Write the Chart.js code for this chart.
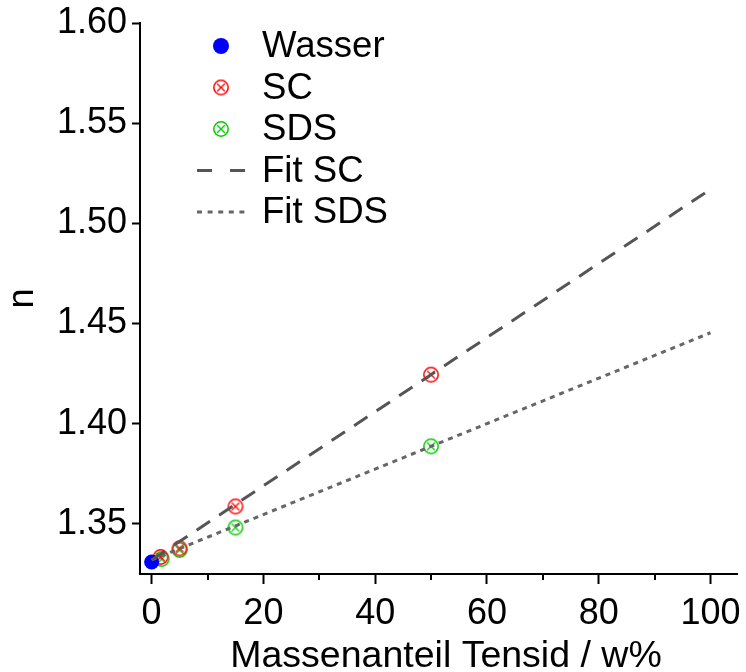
<!DOCTYPE html>
<html>
<head>
<meta charset="utf-8">
<script src="https://cdn.jsdelivr.net/npm/chart.js@4.4.0/dist/chart.umd.min.js"></script>
<style>
  html, body { margin: 0; padding: 0; background: #fff; }
  #chart { display: block; }
</style>
</head>
<body>
<canvas id="chart" width="746" height="672"></canvas>
<script>
// refractive index vs. surfactant mass fraction
const waterX = [0];
const waterN = [1.331];

const scX = [1.6, 5, 15, 50];
const scN = [1.3335, 1.3378, 1.3587, 1.4245];

const sdsX = [1.8, 5, 15, 50];
const sdsN = [1.3325, 1.3370, 1.3482, 1.3887];

const fitX = [0, 100];
const fitSC = [1.332, 1.517];
const fitSDS = [1.332, 1.4454];

const xTicks = [0, 20, 40, 60, 80, 100];
const yTicks = [1.35, 1.40, 1.45, 1.50, 1.55, 1.60];

const xTitle = 'Massenanteil Tensid / w%';

const FONT = "'Liberation Sans', Arial, Helvetica, sans-serif";
Chart.defaults.font.family = FONT;
Chart.defaults.font.size = 36;
Chart.defaults.color = '#000';

const pts = (xs, ys) => xs.map((x, i) => ({ x: x, y: ys[i] }));

// open circle with an x inside
function crossedCircle(color) {
  const c = document.createElement('canvas');
  c.width = 18;
  c.height = 18;
  const g = c.getContext('2d');
  g.strokeStyle = color;
  g.lineWidth = 1.5;
  g.beginPath();
  g.arc(9, 9, 7.2, 0, Math.PI * 2);
  g.stroke();
  g.lineWidth = 1.3;
  g.beginPath();
  g.moveTo(5.2, 5.2); g.lineTo(12.8, 12.8);
  g.moveTo(12.8, 5.2); g.lineTo(5.2, 12.8);
  g.stroke();
  return c;
}

const scMarker = crossedCircle('#ff0000');
const sdsMarker = crossedCircle('#00cc00');

// minor ticks halfway between the labelled x ticks, plus the x title
const xAxisExtras = {
  id: 'xAxisExtras',
  afterDraw(chart) {
    const sx = chart.scales.x;
    const ctx = chart.ctx;
    const y0 = chart.chartArea.bottom;
    ctx.save();
    ctx.strokeStyle = '#000';
    ctx.lineWidth = 2;
    for (let i = 0; i < xTicks.length - 1; i++) {
      const px = Math.round(sx.getPixelForValue((xTicks[i] + xTicks[i + 1]) / 2));
      ctx.beginPath();
      ctx.moveTo(px, y0);
      ctx.lineTo(px, y0 + 6);
      ctx.stroke();
    }
    ctx.font = '37.5px ' + FONT;
    ctx.fillStyle = '#000';
    ctx.textAlign = 'center';
    ctx.textBaseline = 'alphabetic';
    ctx.fillText(xTitle, (sx.left + sx.right) / 2 + 7.5, 667);
    ctx.restore();
  }
};

// legend drawn inside the plot area
const insetLegend = {
  id: 'insetLegend',
  afterDraw(chart) {
    const ctx = chart.ctx;
    const symX = 221;
    const textX = 262;
    const top = 46;
    const step = 41.5;
    ctx.save();
    ctx.font = '36.6px ' + FONT;
    ctx.fillStyle = '#000';
    ctx.textBaseline = 'middle';
    chart.data.datasets.forEach((ds, i) => {
      const y = top + i * step;
      if (ds.showLine) {
        ctx.save();
        ctx.strokeStyle = ds.borderColor;
        ctx.lineWidth = ds.borderWidth;
        ctx.setLineDash(ds.legendDash);
        ctx.beginPath();
        ctx.moveTo(symX - 24, y);
        ctx.lineTo(symX + 24, y);
        ctx.stroke();
        ctx.restore();
      } else if (ds.pointStyle === 'circle') {
        ctx.fillStyle = ds.backgroundColor;
        ctx.beginPath();
        ctx.arc(symX, y, 8, 0, Math.PI * 2);
        ctx.fill();
        ctx.fillStyle = '#000';
      } else {
        Chart.helpers.drawPoint(ctx, {
          pointStyle: ds.pointStyle,
          radius: ds.pointRadius,
          borderWidth: 0,
          rotation: 0
        }, symX, y);
      }
      ctx.fillText(ds.label, textX, y + 1);
    });
    ctx.restore();
  }
};

new Chart(document.getElementById('chart'), {
  type: 'scatter',
  data: {
    datasets: [
      {
        label: 'Wasser',
        data: pts(waterX, waterN),
        pointStyle: 'circle',
        pointRadius: 7.5,
        backgroundColor: '#0000ff',
        borderColor: '#0000ff',
        borderWidth: 0,
        order: 1
      },
      {
        label: 'SC',
        data: pts(scX, scN),
        pointStyle: scMarker,
        pointRadius: 8,
        order: 1
      },
      {
        label: 'SDS',
        data: pts(sdsX, sdsN),
        pointStyle: sdsMarker,
        pointRadius: 8,
        order: 1
      },
      {
        label: 'Fit SC',
        data: pts(fitX, fitSC),
        showLine: true,
        pointRadius: 0,
        borderColor: '#555555',
        borderWidth: 3,
        borderDash: [16, 11],
        legendDash: [15, 18],
        order: 0
      },
      {
        label: 'Fit SDS',
        data: pts(fitX, fitSDS),
        showLine: true,
        pointRadius: 0,
        borderColor: '#666666',
        borderWidth: 3,
        borderDash: [5, 5],
        legendDash: [5, 5.6],
        order: 0
      }
    ]
  },
  options: {
    responsive: false,
    devicePixelRatio: 1,
    animation: false,
    layout: { padding: { top: 23, right: 3, left: 0, bottom: 0 } },
    plugins: {
      legend: { display: false },
      tooltip: { enabled: false }
    },
    scales: {
      x: {
        type: 'linear',
        min: -2.08,
        max: 104.75,
        afterBuildTicks: s => { s.ticks = xTicks.map(v => ({ value: v })); },
        afterFit: s => { s.height = 98; s.paddingLeft = 0; s.paddingRight = 0; },
        grid: {
          drawOnChartArea: false,
          drawTicks: true,
          tickLength: 10,
          tickWidth: 2,
          tickColor: '#000'
        },
        border: { display: true, color: '#000', width: 2 },
        ticks: { padding: 8, maxRotation: 0, callback: v => String(v) },
        title: { display: false }
      },
      y: {
        type: 'linear',
        min: 1.325,
        max: 1.60,
        afterBuildTicks: s => { s.ticks = yTicks.map(v => ({ value: v })); },
        afterFit: s => { s.width = 140; s.paddingTop = 0; s.paddingBottom = 0; },
        grid: {
          drawOnChartArea: false,
          drawTicks: true,
          tickLength: 8,
          tickWidth: 2,
          tickColor: '#000'
        },
        border: { display: true, color: '#000', width: 2 },
        ticks: { padding: 5, callback: v => v.toFixed(2) },
        title: {
          display: true,
          text: 'n',
          font: { size: 36 },
          padding: { top: 1, bottom: 0 }
        }
      }
    }
  },
  plugins: [xAxisExtras, insetLegend]
});
</script>
</body>
</html>
